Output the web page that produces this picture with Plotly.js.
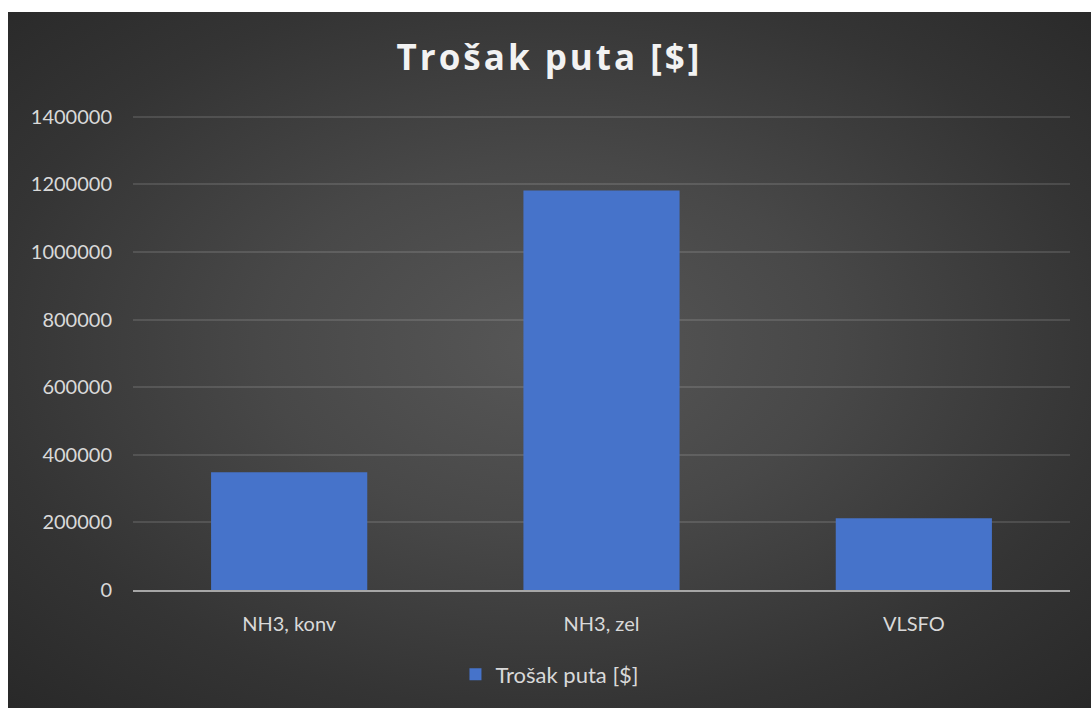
<!DOCTYPE html>
<html>
<head>
<meta charset="utf-8">
<script src="https://cdn.plot.ly/plotly-3.0.1.min.js"></script>
<style>
  html, body { margin: 0; padding: 0; background: #ffffff; width: 1091px; height: 708px; overflow: hidden; }
  #chart {
    position: absolute; left: 8px; top: 12px; width: 1083px; height: 696px;
    background: radial-gradient(ellipse 75% 75% at 50% 48%, #575757 0%, #484848 35%, #343434 70%, #272727 100%);
  }
  #chart .gtitle { letter-spacing: 3px; }
</style>
</head>
<body>
<div id="chart"></div>
<script>
const categories = ["NH3, konv", "NH3, zel", "VLSFO"];
const values = [348000, 1182000, 212000];
const seriesName = "Trošak puta [$]";
const chartTitle = "Trošak puta [$]";
const yTicks = [0, 200000, 400000, 600000, 800000, 1000000, 1200000, 1400000];

const trace = {
  type: "bar",
  x: categories,
  y: values,
  name: seriesName,
  marker: { color: "#4673CA", line: { width: 0 } },
  hoverinfo: "x+y"
};

const layout = {
  width: 1083,
  height: 696,
  paper_bgcolor: "rgba(0,0,0,0)",
  plot_bgcolor: "rgba(0,0,0,0)",
  margin: { l: 125, r: 21, t: 98, b: 114 },
  title: {
    text: "<b>" + chartTitle + "</b>",
    x: 0.5, xanchor: "center",
    y: 1 - (46 / 696), yanchor: "middle",
    font: { family: "Open Sans, Lato, sans-serif", size: 35, color: "#f2f2f2" }
  },
  bargap: 0.5,
  showlegend: true,
  legend: {
    orientation: "h",
    x: 0.445, xanchor: "center",
    y: -0.176, yanchor: "middle",
    font: { family: "Lato, sans-serif", size: 22, color: "#d9d9d9" },
    itemwidth: 30
  },
  xaxis: {
    type: "category",
    showgrid: false,
    showline: true,
    linecolor: "#a6a6a6",
    linewidth: 2,
    ticks: "",
    ticklabelstandoff: 15,
    tickfont: { family: "Lato, sans-serif", size: 20, color: "#d9d9d9" },
    zeroline: false
  },
  yaxis: {
    range: [0, 1420000],
    tickvals: yTicks,
    ticktext: yTicks.map(v => String(v)),
    showgrid: true,
    gridcolor: "rgba(255,255,255,0.12)",
    gridwidth: 2,
    zeroline: false,
    showline: false,
    ticks: "",
    ticklabelstandoff: 20,
    tickfont: { family: "Lato, sans-serif", size: 20, color: "#d9d9d9" }
  }
};

Plotly.newPlot("chart", [trace], layout, { displayModeBar: false, staticPlot: true });
</script>
</body>
</html>
